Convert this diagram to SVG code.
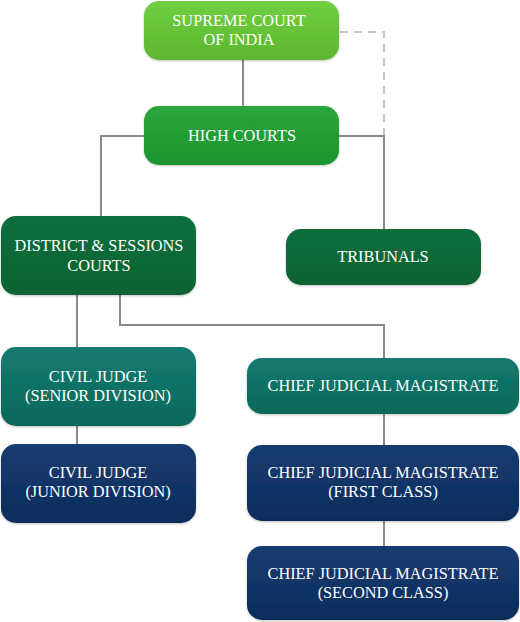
<svg xmlns="http://www.w3.org/2000/svg" width="520" height="622" viewBox="0 0 520 622">
<defs>
<linearGradient id="gLight" x1="0" y1="0" x2="0" y2="1"><stop offset="0" stop-color="#70cf40"/><stop offset="1" stop-color="#5cb62f"/></linearGradient>
<linearGradient id="gMid" x1="0" y1="0" x2="0" y2="1"><stop offset="0" stop-color="#2ca63c"/><stop offset="1" stop-color="#1c942f"/></linearGradient>
<linearGradient id="gDark" x1="0" y1="0" x2="0" y2="1"><stop offset="0" stop-color="#0f6e3e"/><stop offset="1" stop-color="#086331"/></linearGradient>
<linearGradient id="gTeal" x1="0" y1="0" x2="0" y2="1"><stop offset="0" stop-color="#157a6f"/><stop offset="1" stop-color="#0a685b"/></linearGradient>
<linearGradient id="gNavy" x1="0" y1="0" x2="0" y2="1"><stop offset="0" stop-color="#173c70"/><stop offset="1" stop-color="#0c2c5c"/></linearGradient>
<filter id="sh" x="-10%" y="-10%" width="120%" height="130%"><feDropShadow dx="0" dy="1" stdDeviation="1" flood-color="#000" flood-opacity="0.25"/></filter>
</defs>
<style>
.ln{stroke:#8a8a8a;stroke-width:2;fill:none}
.dash{stroke:#c4c4c4;stroke-width:2;fill:none;stroke-dasharray:8 6}
.box{filter:url(#sh)}
.t{font-size:16.3px;fill:#ffffff;text-anchor:middle}
</style>
<g id="connectors">
<line class="ln" x1="243" y1="60" x2="243" y2="106"/>
<polyline class="dash" points="340,32 384,32 384,136"/>
<polyline class="ln" points="339,136 384,136 384,229"/>
<polyline class="ln" points="144,136 101,136 101,216"/>
<line class="ln" x1="77" y1="295" x2="77" y2="347"/>
<line class="ln" x1="77" y1="426" x2="77" y2="444"/>
<polyline class="ln" points="120,295 120,325 384,325 384,358"/>
<line class="ln" x1="384" y1="414" x2="384" y2="445"/>
<line class="ln" x1="384" y1="521" x2="384" y2="546"/>
</g>
<g font-family="'Liberation Serif', 'DejaVu Serif', serif">
<g id="supreme-court">
<rect class="box" x="144" y="1" width="195" height="59" rx="15" fill="url(#gLight)"/>
<text class="t" x="239" y="26">SUPREME COURT</text>
<text class="t" x="239" y="45">OF INDIA</text>
</g>
<g id="high-courts">
<rect class="box" x="144" y="106" width="195" height="59" rx="15" fill="url(#gMid)"/>
<text class="t" x="242" y="141">HIGH COURTS</text>
</g>
<g id="district-courts">
<rect class="box" x="1" y="216" width="195" height="79" rx="15" fill="url(#gDark)"/>
<text class="t" x="99" y="251">DISTRICT &amp; SESSIONS</text>
<text class="t" x="99" y="271">COURTS</text>
</g>
<g id="tribunals">
<rect class="box" x="286" y="229" width="195" height="56" rx="15" fill="url(#gDark)"/>
<text class="t" x="383" y="262">TRIBUNALS</text>
</g>
<g id="civil-senior">
<rect class="box" x="1" y="347" width="195" height="79" rx="15" fill="url(#gTeal)"/>
<text class="t" x="98" y="382">CIVIL JUDGE</text>
<text class="t" x="98" y="401">(SENIOR DIVISION)</text>
</g>
<g id="civil-junior">
<rect class="box" x="1" y="444" width="195" height="79" rx="15" fill="url(#gNavy)"/>
<text class="t" x="98" y="478">CIVIL JUDGE</text>
<text class="t" x="98" y="497">(JUNIOR DIVISION)</text>
</g>
<g id="cjm">
<rect class="box" x="247" y="358" width="272" height="56" rx="15" fill="url(#gTeal)"/>
<text class="t" x="383" y="391">CHIEF JUDICIAL MAGISTRATE</text>
</g>
<g id="cjm-first">
<rect class="box" x="247" y="445" width="272" height="76" rx="15" fill="url(#gNavy)"/>
<text class="t" x="383" y="478">CHIEF JUDICIAL MAGISTRATE</text>
<text class="t" x="383" y="497">(FIRST CLASS)</text>
</g>
<g id="cjm-second">
<rect class="box" x="247" y="546" width="272" height="74" rx="15" fill="url(#gNavy)"/>
<text class="t" x="383" y="579">CHIEF JUDICIAL MAGISTRATE</text>
<text class="t" x="383" y="598">(SECOND CLASS)</text>
</g>
</g>
</svg>
